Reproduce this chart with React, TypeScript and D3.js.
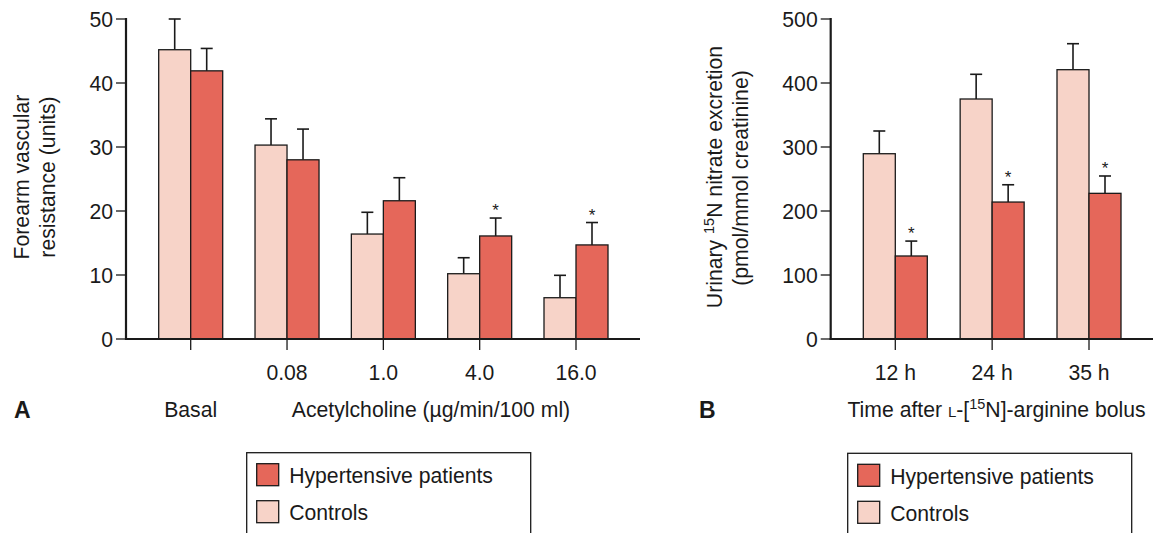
import React from "react";
import * as d3 from "d3";

const doseCategories = ["Basal", "0.08", "1.0", "4.0", "16.0"];
const doseTickLabels = ["", "0.08", "1.0", "4.0", "16.0"];
const controlResistance = [45.2, 30.3, 16.4, 10.2, 6.45];
const controlResistanceErr = [4.8, 4.1, 3.4, 2.5, 3.5];
const hyperResistance = [41.9, 28.0, 21.6, 16.1, 14.7];
const hyperResistanceErr = [3.5, 4.8, 3.6, 2.8, 3.5];
const hyperResistanceSig = [false, false, false, true, true];
const resistanceTicks = [0, 10, 20, 30, 40, 50];

const timeCategories = ["12 h", "24 h", "35 h"];
const controlNitrate = [289.5, 375, 420.8];
const controlNitrateErr = [35.5, 38.6, 40.6];
const hyperNitrate = [129.7, 214, 227.6];
const hyperNitrateErr = [23.3, 27, 27.1];
const hyperNitrateSig = [true, true, true];
const nitrateTicks = [0, 100, 200, 300, 400, 500];

const FONT = "'Liberation Sans', Arial, Helvetica, sans-serif";
const CONTROL = "#F7D3C8";
const HYPER = "#E5675A";
const INK = "#1a1a1a";
const FS = 21.2;
const BW = 32;

type PanelProps = {
  cats: string[];
  tickLabels: string[];
  ctrl: number[];
  ctrlErr: number[];
  hyp: number[];
  hypErr: number[];
  sig: boolean[];
  ticks: number[];
  yMax: number;
  axisX: number;
  axisEnd: number;
  firstCenter: number;
  lastCenter: number;
};

function Panel(p: PanelProps) {
  const y = d3.scaleLinear().domain([0, p.yMax]).range([339, 19]);
  const x = d3.scalePoint<string>().domain(p.cats).range([p.firstCenter, p.lastCenter]);
  const y0 = y(0);
  const errBar = (cx: number, v: number, e: number, key: string) => (
    <g key={key} stroke={INK} strokeWidth={1.6}>
      <line x1={cx} x2={cx} y1={y(v)} y2={y(v + e)} />
      <line x1={cx - 6} x2={cx + 6} y1={y(v + e)} y2={y(v + e)} />
    </g>
  );
  return (
    <g>
      {p.cats.map((c, i) => {
        const cx = x(c)!;
        return (
          <g key={c}>
            {errBar(cx - BW / 2, p.ctrl[i], p.ctrlErr[i], "ec")}
            {errBar(cx + BW / 2, p.hyp[i], p.hypErr[i], "eh")}
            <rect x={cx - BW} y={y(p.ctrl[i])} width={BW} height={y0 - y(p.ctrl[i])}
              fill={CONTROL} stroke={INK} strokeWidth={1.3} />
            <rect x={cx} y={y(p.hyp[i])} width={BW} height={y0 - y(p.hyp[i])}
              fill={HYPER} stroke={INK} strokeWidth={1.3} />
            {p.sig[i] && (
              <text x={cx + BW / 2} y={y(p.hyp[i] + p.hypErr[i]) - 2} textAnchor="middle"
                fontSize={17} fontFamily={FONT} fill={INK}>*</text>
            )}
            <line x1={cx} x2={cx} y1={y0} y2={y0 + 11} stroke={INK} strokeWidth={1.3} />
            <text x={cx} y={y0 + 41} textAnchor="middle" fontSize={FS} fontFamily={FONT} fill={INK}>
              {p.tickLabels[i]}
            </text>
          </g>
        );
      })}
      {p.ticks.map((t) => (
        <g key={t}>
          <line x1={p.axisX - 10} x2={p.axisX} y1={y(t)} y2={y(t)} stroke={INK} strokeWidth={1.3} />
          <text x={p.axisX - 13} y={y(t) + 7.5} textAnchor="end" fontSize={FS} fontFamily={FONT} fill={INK}>
            {t}
          </text>
        </g>
      ))}
      <line x1={p.axisX} x2={p.axisX} y1={y(p.yMax) - 1} y2={y0 + 1} stroke={INK} strokeWidth={2.2} />
      <line x1={p.axisX - 1} x2={p.axisEnd} y1={y0} y2={y0} stroke={INK} strokeWidth={2.2} />
    </g>
  );
}

function Legend({ x, y }: { x: number; y: number }) {
  return (
    <g fontFamily={FONT} fontSize={FS} fill={INK}>
      <rect x={x} y={y} width={284} height={100} fill="white" stroke={INK} strokeWidth={1.3} />
      <rect x={x + 10} y={y + 11} width={22} height={22} fill={HYPER} stroke={INK} strokeWidth={1.3} />
      <text x={x + 42.5} y={y + 30.5}>Hypertensive patients</text>
      <rect x={x + 10} y={y + 48} width={22} height={22} fill={CONTROL} stroke={INK} strokeWidth={1.3} />
      <text x={x + 42.5} y={y + 67.5}>Controls</text>
    </g>
  );
}

export default function App() {
  return (
    <svg width={1160} height={533} style={{ position: "absolute", left: 0, top: 0, background: "white" }}>
      <rect width={1160} height={533} fill="white" />
      <Panel cats={doseCategories} tickLabels={doseTickLabels} ctrl={controlResistance}
        ctrlErr={controlResistanceErr} hyp={hyperResistance} hypErr={hyperResistanceErr}
        sig={hyperResistanceSig} ticks={resistanceTicks} yMax={50} axisX={126} axisEnd={640}
        firstCenter={190.7} lastCenter={576} />
      <Panel cats={timeCategories} tickLabels={timeCategories} ctrl={controlNitrate}
        ctrlErr={controlNitrateErr} hyp={hyperNitrate} hypErr={hyperNitrateErr}
        sig={hyperNitrateSig} ticks={nitrateTicks} yMax={500} axisX={830.7} axisEnd={1153}
        firstCenter={895.3} lastCenter={1089} />

      <g fontFamily={FONT} fontSize={FS} fill={INK} textAnchor="middle">
        <text transform="translate(29,177) rotate(-90)">Forearm vascular</text>
        <text transform="translate(55,177) rotate(-90)">resistance (units)</text>
        <text transform="translate(722,177) rotate(-90)">
          Urinary <tspan fontSize={14.5} dy={-8}>15</tspan><tspan dy={8}>N nitrate excretion</tspan>
        </text>
        <text transform="translate(748,178) rotate(-90)">(pmol/mmol creatinine)</text>
        <text x={190.7} y={417}>Basal</text>
        <text x={431} y={417}>Acetylcholine (µg/min/100 ml)</text>
        <text x={996.5} y={417}>
          Time after <tspan fontSize={15}>L</tspan>-[<tspan fontSize={14.5} dy={-8}>15</tspan><tspan dy={8}>N]-arginine bolus</tspan>
        </text>
      </g>
      <text x={14} y={418} fontFamily={FONT} fontSize={23} fontWeight="bold" fill={INK}>A</text>
      <text x={699} y={418} fontFamily={FONT} fontSize={23} fontWeight="bold" fill={INK}>B</text>

      <Legend x={246.7} y={452.7} />
      <Legend x={847.7} y={453.3} />
    </svg>
  );
}
